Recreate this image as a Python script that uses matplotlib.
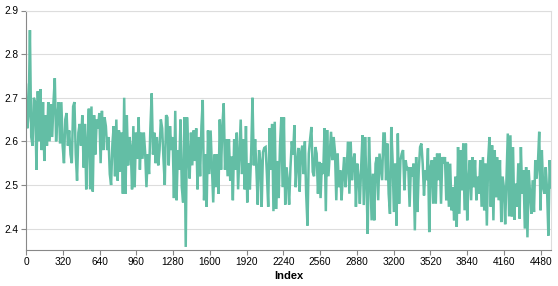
import numpy as np
import matplotlib
matplotlib.use("Agg")
import matplotlib.pyplot as plt

# values, left to right
seg1 = [2.73, 2.63, 2.66, 2.855, 2.61, 2.59, 2.70, 2.69, 2.535, 2.715, 2.60, 2.72, 2.58, 2.69, 2.555,
        2.66, 2.59, 2.69, 2.60, 2.685, 2.61, 2.69, 2.745, 2.60, 2.66, 2.69, 2.595, 2.69, 2.59, 2.55,
        2.65, 2.665, 2.59, 2.625, 2.57, 2.55, 2.68, 2.69, 2.57, 2.51, 2.62, 2.64, 2.59]
seg2 = [2.66, 2.54, 2.64, 2.49, 2.60, 2.675, 2.49, 2.68, 2.485, 2.66, 2.57, 2.65, 2.63, 2.665, 2.55,
        2.67, 2.58, 2.655, 2.635, 2.58, 2.61, 2.525, 2.50, 2.595, 2.635, 2.52, 2.65, 2.51, 2.625, 2.53,
        2.62, 2.48, 2.70, 2.48, 2.66, 2.545, 2.61, 2.585, 2.49, 2.635, 2.495, 2.62, 2.56, 2.655, 2.535,
        2.62, 2.56]
seg3 = [2.62, 2.575, 2.495, 2.57, 2.525, 2.63, 2.71, 2.57, 2.62, 2.55, 2.61, 2.545, 2.58, 2.65, 2.63,
        2.56, 2.50, 2.66, 2.655, 2.545, 2.635, 2.58, 2.61, 2.47, 2.67, 2.465, 2.58, 2.535, 2.65, 2.495,
        2.46, 2.655, 2.358, 2.655, 2.57, 2.515, 2.62, 2.545, 2.625, 2.555, 2.63, 2.49, 2.61, 2.52, 2.635,
        2.695, 2.465]
seg4 = [2.57, 2.45, 2.625, 2.525, 2.625, 2.54, 2.46, 2.57, 2.495, 2.57, 2.48, 2.65, 2.535, 2.635, 2.687,
        2.535, 2.605, 2.52, 2.605, 2.51, 2.565, 2.465, 2.605, 2.535, 2.62, 2.49, 2.57, 2.65, 2.525, 2.605,
        2.49, 2.635, 2.46, 2.55, 2.49, 2.575, 2.70, 2.545, 2.605, 2.535, 2.455, 2.58, 2.555, 2.45, 2.575,
        2.585]
seg5 = [2.587, 2.525, 2.45, 2.63, 2.535, 2.64, 2.44, 2.645, 2.445, 2.555, 2.47, 2.59, 2.655, 2.495, 2.655,
        2.455, 2.54, 2.51, 2.455, 2.54, 2.60, 2.57, 2.637, 2.495, 2.55, 2.585, 2.485, 2.572, 2.59, 2.525,
        2.60, 2.48, 2.407, 2.572, 2.605, 2.633, 2.53, 2.52, 2.587, 2.572, 2.48, 2.553, 2.47, 2.55, 2.525]
seg6 = [2.63, 2.44, 2.626, 2.52, 2.572, 2.622, 2.557, 2.61, 2.576, 2.465, 2.572, 2.495, 2.534, 2.465, 2.519,
        2.564, 2.495, 2.541, 2.599, 2.48, 2.599, 2.511, 2.557, 2.572, 2.45, 2.549, 2.519, 2.457, 2.541, 2.614,
        2.454, 2.61, 2.511, 2.388, 2.61, 2.519, 2.419, 2.526, 2.419, 2.549, 2.564, 2.465, 2.572, 2.541, 2.511,
        2.618]
seg7 = [2.618, 2.511, 2.595, 2.48, 2.434, 2.633, 2.557, 2.438, 2.549, 2.407, 2.618, 2.457, 2.557, 2.572, 2.58,
        2.488, 2.557, 2.534, 2.541, 2.45, 2.541, 2.519, 2.549, 2.396, 2.564, 2.438, 2.534, 2.587, 2.595, 2.549,
        2.476, 2.534, 2.511, 2.584, 2.392, 2.541, 2.557, 2.457, 2.564, 2.457, 2.572, 2.511, 2.572, 2.457, 2.564,
        2.549]
seg8 = [2.564, 2.465, 2.553, 2.45, 2.549, 2.442, 2.495, 2.419, 2.519, 2.404, 2.587, 2.434, 2.58, 2.488, 2.595,
        2.442, 2.595, 2.419, 2.511, 2.557, 2.465, 2.564, 2.495, 2.557, 2.465, 2.519, 2.48, 2.557, 2.45, 2.564,
        2.442, 2.549, 2.407, 2.557, 2.61, 2.45, 2.591, 2.419, 2.58, 2.472, 2.564, 2.465, 2.557, 2.415, 2.519,
        2.495]
seg9 = [2.41, 2.515, 2.618, 2.428, 2.614, 2.428, 2.587, 2.42, 2.503, 2.45, 2.549, 2.423, 2.587, 2.48, 2.534,
        2.40, 2.541, 2.38, 2.534, 2.48, 2.434, 2.511, 2.438, 2.557, 2.515, 2.549, 2.622, 2.442, 2.58, 2.495,
        2.48, 2.541, 2.488, 2.384, 2.557, 2.495]

values = np.array(seg1 + seg2 + seg3 + seg4 + seg5 + seg6 + seg7 + seg8 + seg9)
last_index = 4570
index = np.linspace(0, last_index, len(values))

x_ticks = list(range(0, 4481, 320))
y_ticks = [2.4, 2.5, 2.6, 2.7, 2.8, 2.9]

plt.rcParams['font.family'] = ['Liberation Sans', 'DejaVu Sans']

fig = plt.figure(figsize=(5.58, 2.86), dpi=100)
ax = fig.add_axes([26 / 558, 1 - 250 / 286, 525 / 558, 239.5 / 286])

ax.plot(index, values, color="#63bea5", lw=1.8, solid_joinstyle="miter")

ax.set_xlim(0, last_index)
ax.set_ylim(2.351, 2.9)
ax.set_xticks(x_ticks)
ax.set_yticks(y_ticks)
ax.set_yticklabels([f"{t:.1f}" for t in y_ticks])
ax.tick_params(axis="both", labelsize=7.3, length=3.6, width=0.8, color="#888888", pad=1.5,
               labelcolor="black")
ax.grid(axis="y", color="#dddddd", lw=0.8)
ax.set_axisbelow(True)

for side in ["left", "bottom"]:
    ax.spines[side].set_color("#888888")
    ax.spines[side].set_linewidth(0.8)
for side in ["right", "top"]:
    ax.spines[side].set_color("#dddddd")
    ax.spines[side].set_linewidth(0.8)

ax.set_xlabel("Index", fontsize=8, fontweight="bold", labelpad=3)

fig.savefig("out.png", dpi=100)
